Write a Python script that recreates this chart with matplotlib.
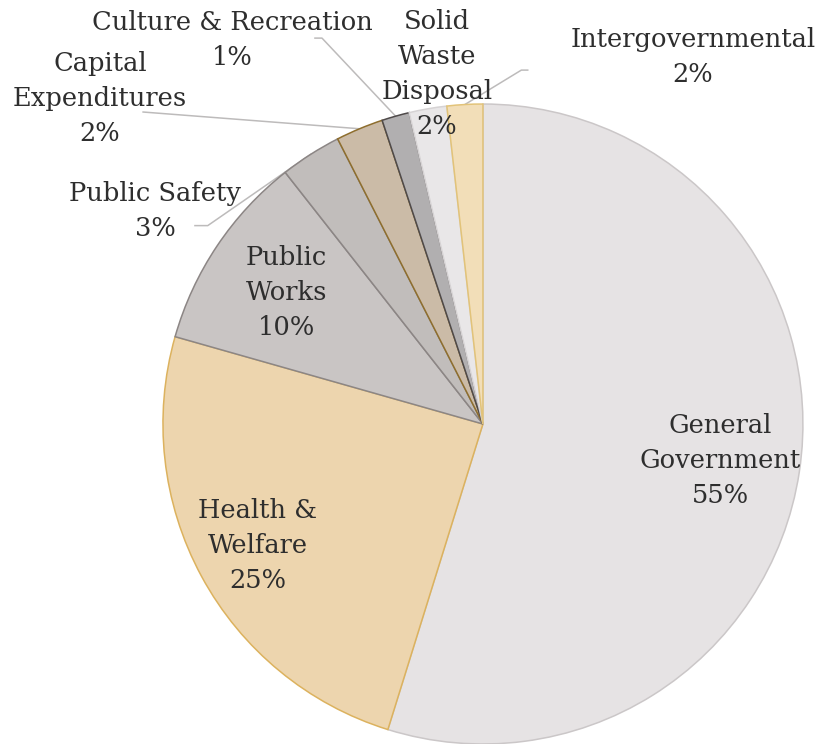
import numpy as np
import matplotlib.pyplot as plt

# expenditure shares by function (percent)
categories = ["General\nGovernment", "Health &\nWelfare", "Public\nWorks", "Public Safety",
              "Capital\nExpenditures", "Culture & Recreation", "Solid\nWaste\nDisposal",
              "Intergovernmental"]
shares = [54.8, 24.6, 10.0, 3.1, 2.4, 1.4, 1.9, 1.8]

face_colors = ["#E6E3E4", "#EDD5AE", "#C9C5C4", "#C1BDBB", "#CBBBA7", "#B1AFB0", "#E9E7E8", "#F2DEB8"]
edge_colors = ["#CBC7C8", "#DCB25E", "#8C8685", "#8C8685", "#8E6E2E", "#4F4A4A", "#D6D3D4", "#E2C379"]

txt = "#2E2E2E"
plt.rcParams['font.family'] = ['DejaVu Serif']

fig = plt.figure(figsize=(8.23, 7.44), dpi=100)
ax = fig.add_axes([0.198, 0.0, 0.7776, 0.8602])

wedges, _ = ax.pie(shares, startangle=90, counterclock=False, radius=1,
                   colors=face_colors,
                   wedgeprops=dict(linewidth=1.1))
for w, ec in zip(wedges, edge_colors):
    w.set_edgecolor(ec)
    w.set_clip_on(False)

ax.set_xlim(-1, 1)
ax.set_ylim(-1, 1)
ax.set_aspect('equal')
ax.axis('off')

total = sum(shares)
pct = [f"{v / total * 100:.0f}%" for v in shares]

def mid_angle(w):
    return np.deg2rad((w.theta1 + w.theta2) / 2)

fs = 18.5
ls = 1.5

# labels placed inside the wedge (radius fraction)
inside = {0: 0.75, 1: 0.80, 2: 0.74}
for i, r in inside.items():
    a = mid_angle(wedges[i])
    ax.text(r * np.cos(a), r * np.sin(a), categories[i] + "\n" + pct[i],
            ha='center', va='center', fontsize=fs, color=txt, linespacing=ls)

# labels outside, with leader lines: text position, elbow points
outside = {
    3: ((-1.025, 0.666), [(-0.90, 0.62), (-0.86, 0.62)]),
    4: ((-1.197, 1.016), [(-1.062, 0.975)]),
    5: ((-0.784, 1.20), [(-0.525, 1.206), (-0.503, 1.206)]),
    6: ((-0.144, 1.094), None),
    7: ((0.656, 1.147), [(0.14, 1.106), (0.12, 1.106)]),
}
for i, (pos, pts) in outside.items():
    ax.text(pos[0], pos[1], categories[i] + "\n" + pct[i], ha='center', va='center',
            fontsize=fs, color=txt, linespacing=ls, clip_on=False)
    if pts:
        a = mid_angle(wedges[i])
        xs = [p[0] for p in pts] + [np.cos(a)]
        ys = [p[1] for p in pts] + [np.sin(a)]
        ax.plot(xs, ys, color="#BDBBBB", linewidth=1.1, clip_on=False, zorder=0.5)

fig.savefig("out.png", dpi=100)
